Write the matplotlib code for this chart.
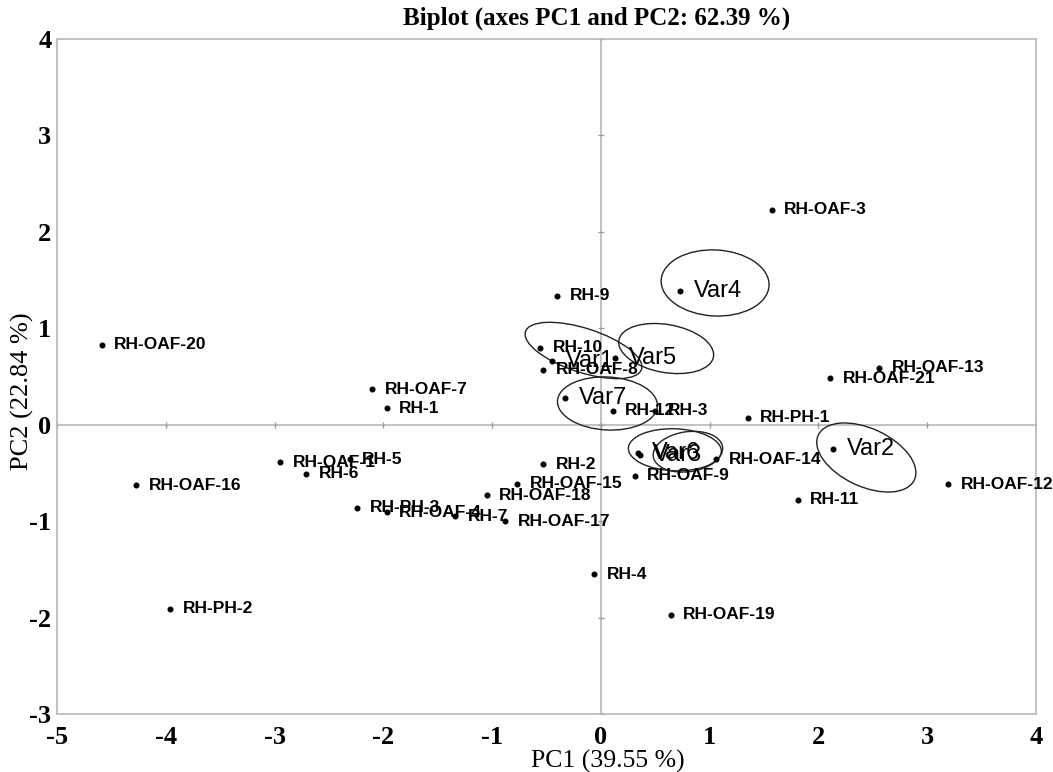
import matplotlib
matplotlib.use("Agg")
import matplotlib.pyplot as plt
from matplotlib.patches import Ellipse
from matplotlib.transforms import ScaledTranslation

plt.rcParams["axes.unicode_minus"] = False

# Observations (PC1, PC2)
obs_names = ["RH-OAF-3", "RH-9", "RH-OAF-20", "RH-10", "RH-OAF-8", "RH-12", "RH-3",
             "RH-PH-1", "RH-OAF-13", "RH-OAF-21", "RH-OAF-12", "RH-OAF-14", "RH-OAF-9",
             "RH-11", "RH-4", "RH-OAF-19", "RH-2", "RH-OAF-15", "RH-OAF-18", "RH-OAF-17",
             "RH-7", "RH-OAF-4", "RH-PH-3", "RH-OAF-1", "RH-5", "RH-6", "RH-OAF-16",
             "RH-PH-2", "RH-OAF-7", "RH-1"]
obs_x = [1.57, -0.40, -4.59, -0.56, -0.53, 0.11, 0.50,
         1.35, 2.56, 2.11, 3.19, 1.06, 0.31,
         1.81, -0.06, 0.64, -0.53, -0.77, -1.05, -0.88,
         -1.34, -1.97, -2.24, -2.95, -2.31, -2.71, -4.27,
         -3.96, -2.10, -1.97]
obs_y = [2.23, 1.34, 0.83, 0.80, 0.57, 0.145, 0.145,
         0.07, 0.59, 0.48, -0.62, -0.36, -0.53,
         -0.78, -1.55, -1.97, -0.41, -0.61, -0.73, -1.00,
         -0.95, -0.91, -0.86, -0.39, -0.36, -0.51, -0.63,
         -1.91, 0.37, 0.17]

# Variables
var_names = ["Var4", "Var1", "Var5", "Var7", "Var6", "Var3", "Var2"]
var_x = [0.73, -0.45, 0.13, -0.33, 0.34, 0.36, 2.13]
var_y = [1.39, 0.66, 0.69, 0.28, -0.29, -0.31, -0.25]

# Hand-drawn style enclosures around variables (centre in data units, size in px, angle in deg)
ell_cx = [1.05, -0.16, 0.60, 0.06, 0.68, 0.80, 2.44]
ell_cy = [1.47, 0.77, 0.79, 0.22, -0.26, -0.28, -0.34]
ell_w = [108, 122, 96, 100, 93, 70, 106]
ell_h = [66, 44, 48, 53, 42, 40, 58]
ell_a = [-3, -18, -10, -3, -2, 8, -25]

xticks = [-5, -4, -3, -2, -1, 0, 1, 2, 3, 4]
yticks = [-3, -2, -1, 0, 1, 2, 3, 4]

fig = plt.figure(figsize=(10.53, 7.72), dpi=100)
ax = fig.add_axes([57/1053, 1-714/772, (1036-57)/1053, (714-39)/772])
ax.set_xlim(-5, 4)
ax.set_ylim(-3.0, 4.0)

grey = "#b8b8b8"
for s in ax.spines.values():
    s.set_color(grey)
    s.set_linewidth(1.2)

ax.axhline(0, color=grey, lw=1.2, zorder=1)
ax.axvline(0, color=grey, lw=1.2, zorder=1)
# small ticks on zero lines
ax.plot(xticks, [0]*len(xticks), linestyle="none", marker="|", markersize=5, color="#999999", zorder=1)
ax.plot([0]*len(yticks), yticks, linestyle="none", marker="_", markersize=5, color="#999999", zorder=1)

ax.set_xticks(xticks)
ax.set_yticks(yticks)
ax.tick_params(length=0)
ax.tick_params(axis="x", pad=9)
ax.tick_params(axis="y", pad=4)
for lab in ax.get_xticklabels() + ax.get_yticklabels():
    lab.set_fontfamily("Liberation Serif")
    lab.set_fontweight("bold")
    lab.set_fontsize(19)

ax.scatter(obs_x, obs_y, s=11, color="black", zorder=3)
for n, x, y in zip(obs_names, obs_x, obs_y):
    ax.annotate(n, (x, y), xytext=(9, 0), textcoords="offset points", va="center", ha="left",
                fontsize=12.5, fontweight="bold", family="Liberation Sans", color="black",
                zorder=4, annotation_clip=False)

ax.scatter(var_x, var_y, s=11, color="black", zorder=3)
for n, x, y in zip(var_names, var_x, var_y):
    ax.annotate(n, (x, y), xytext=(10, 0), textcoords="offset points", va="center", ha="left",
                fontsize=17, family="Liberation Sans", color="black", zorder=4)

for cx, cy, w, h, a in zip(ell_cx, ell_cy, ell_w, ell_h, ell_a):
    tr = fig.dpi_scale_trans + ScaledTranslation(cx, cy, ax.transData)
    e = Ellipse((0, 0), w/100, h/100, angle=a, transform=tr, fill=False,
                edgecolor="#222222", lw=1.0, zorder=2)
    ax.add_patch(e)

fig.text(597/1053, 1-18/772, "Biplot (axes PC1 and PC2: 62.39 %)", ha="center", va="center",
         fontsize=18, family="Liberation Serif", fontweight="bold")
fig.text(608/1053, 1-761/772, "PC1 (39.55 %)", ha="center", va="center",
         fontsize=18.5, family="Liberation Serif")
fig.text(22/1053, 1-391/772, "PC2 (22.84 %)", ha="center", va="center", rotation=90,
         fontsize=19, family="Liberation Serif")

fig.savefig("out.png", dpi=100)
